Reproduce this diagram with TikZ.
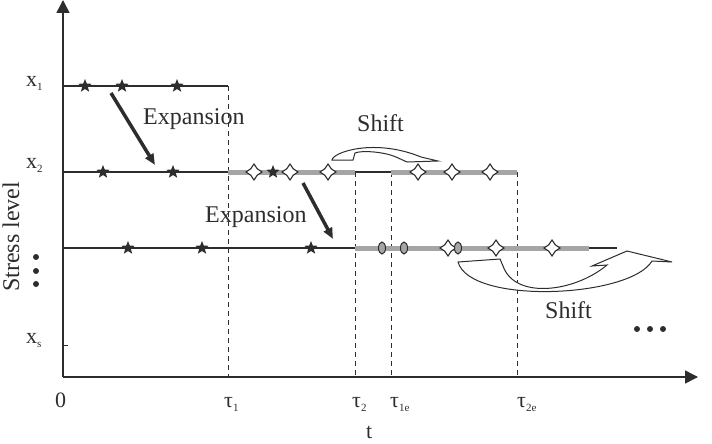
\documentclass[tikz,border=0pt]{standalone}
\usepackage{fontspec}
\setmainfont{Liberation Serif}
\usetikzlibrary{arrows.meta,shapes.geometric}
\definecolor{ink}{RGB}{45,45,45}
\definecolor{shade}{RGB}{165,165,165}
\newcommand{\lowidx}[1]{\raisebox{-4pt}{\fontsize{11}{11}\selectfont #1}}

\begin{document}
\begin{tikzpicture}[x=1pt, y=-1pt,
        every node/.style={font=\fontsize{24}{24}\selectfont, text=ink},
        small/.style={font=\fontsize{22}{22}\selectfont, anchor=base west, inner sep=0pt},
        level/.style={draw=ink, line width=2pt},
        grey/.style={draw=shade, line width=5pt},
        bound/.style={draw=ink, line width=0.9pt, dash pattern=on 5pt off 4pt},
        failstar/.style={star, star points=5, star point ratio=2.3, fill=ink, inner sep=0pt, minimum size=14pt},
        cens/.style={star, star points=4, star point ratio=1.75, draw=ink, fill=white, line width=1.1pt, inner sep=0pt, minimum size=16pt},
        oval/.style={ellipse, draw=ink, fill=shade, line width=1pt, inner sep=0pt, minimum width=7pt, minimum height=12pt},
        push/.style={draw=ink, line width=3.5pt, -{Triangle[length=11pt,width=9pt]}},
        swing/.style={draw=ink, line width=1pt, fill=white},
        axis/.style={draw=ink, line width=1.5pt, -{Triangle[length=13pt,width=13pt]}}]
    \useasboundingbox (0,0) rectangle (712,444);

    % axes
    \coordinate (O) at (63,377);
    \coordinate (ytop) at (63,0);
    \coordinate (xend) at (698,377);
    \draw[axis] (O) -- (ytop);
    \draw[axis] (O) -- (xend);
    \foreach \y in {86,172,248,345}
        \draw[ink, line width=1pt] (63,\y) -- (68,\y);

    % stress levels
    \coordinate (a0) at (63,86);  \coordinate (a1) at (228,86);
    \coordinate (b0) at (63,172); \coordinate (b1) at (228,172);
    \coordinate (b2) at (355,172); \coordinate (b3) at (391,172);
    \coordinate (b4) at (517,172);
    \coordinate (c0) at (63,248); \coordinate (c1) at (355,248);
    \coordinate (c2) at (589,248); \coordinate (c3) at (617,248);
    \coordinate (t1) at (228,377); \coordinate (t2) at (355,377);
    \coordinate (t3) at (391,377); \coordinate (t4) at (517,377);

    \draw[bound] (a1) -- (t1);
    \draw[bound] (b2) -- (t2);
    \draw[bound] (b3) -- (t3);
    \draw[bound] (b4) -- (t4);

    \draw[level] (a0) -- (a1);
    \draw[level] (b0) -- (b1);
    \draw[grey] (b1) -- (b2);
    \draw[level] (b2) -- (b3);
    \draw[grey] (b3) -- (b4);
    \draw[level] (c0) -- (c1);
    \draw[grey] (c1) -- (c2);
    \draw[level] (c2) -- (c3);

    % failures and censored units
    \foreach \x [count=\i] in {85,122,177}
        \node[failstar] (fa\i) at (\x,86) {};
    \foreach \x [count=\i] in {103,173,273}
        \node[failstar] (fb\i) at (\x,172) {};
    \foreach \x [count=\i] in {254,290,328,418,452,490}
        \node[cens] (cb\i) at (\x,172) {};
    \foreach \x [count=\i] in {128,202,311}
        \node[failstar] (fc\i) at (\x,248) {};
    \foreach \x [count=\i] in {448,496,552}
        \node[cens] (cc\i) at (\x,248) {};
    \foreach \x [count=\i] in {382,404,458}
        \node[oval] (oc\i) at (\x,248) {};

    % expansion arrows
    \coordinate (e1s) at (111,93);  \coordinate (e1e) at (155,165);
    \coordinate (e2s) at (303,183); \coordinate (e2e) at (333,239);
    \draw[push] (e1s) -- (e1e);
    \draw[push] (e2s) -- (e2e);
    \node[anchor=base west, inner sep=0pt] (exp1) at (143,124) {Expansion};
    \node[anchor=base west, inner sep=0pt] (exp2) at (205,222) {Expansion};

    % shift arrows
    \draw[swing] (332,160) .. controls (333,152) and (375,138) .. (421,157)
        -- (438,161) -- (407,162) -- (396,157)
        .. controls (385,152) and (362,150) .. (355,153) -- (353,160) -- cycle;
    \draw[swing] (458,262) -- (500,259) -- (503,266)
        .. controls (515,300) and (575,292) .. (607,265)
        -- (592,266) -- (627,251) -- (672,262) -- (652,261)
        .. controls (630,298) and (470,305) .. (458,262) -- cycle;
    \node[anchor=base west, inner sep=0pt] (sh1) at (357,131) {Shift};
    \node[anchor=base west, inner sep=0pt] (sh2) at (545,318) {Shift};

    % axis labels
    \node[small] (lx1) at (26,86) {x\lowidx{1}};
    \node[small] (lx2) at (26,168) {x\lowidx{2}};
    \node[small] (lxs) at (26,343) {x\lowidx{s}};
    \node[small] (l0) at (55,407) {0};
    \node[small] (lt1) at (224,407) {τ\lowidx{1}};
    \node[small] (lt2) at (352,407) {τ\lowidx{2}};
    \node[small] (lt1e) at (390,407) {τ\lowidx{1e}};
    \node[small] (lt2e) at (517,407) {τ\lowidx{2e}};
    \node[small] (lt) at (366,438) {t};
    \node[rotate=90, inner sep=0pt] (lstress) at (11,237) {Stress level};

    % continuation dots
    \foreach \y [count=\i] in {257,271,284}
        \node[circle, fill=ink, inner sep=0pt, minimum size=6pt] (vd\i) at (36,\y) {};
    \foreach \x [count=\i] in {637,650,663}
        \node[circle, fill=ink, inner sep=0pt, minimum size=6pt] (hd\i) at (\x,329) {};
\end{tikzpicture}
\end{document}
